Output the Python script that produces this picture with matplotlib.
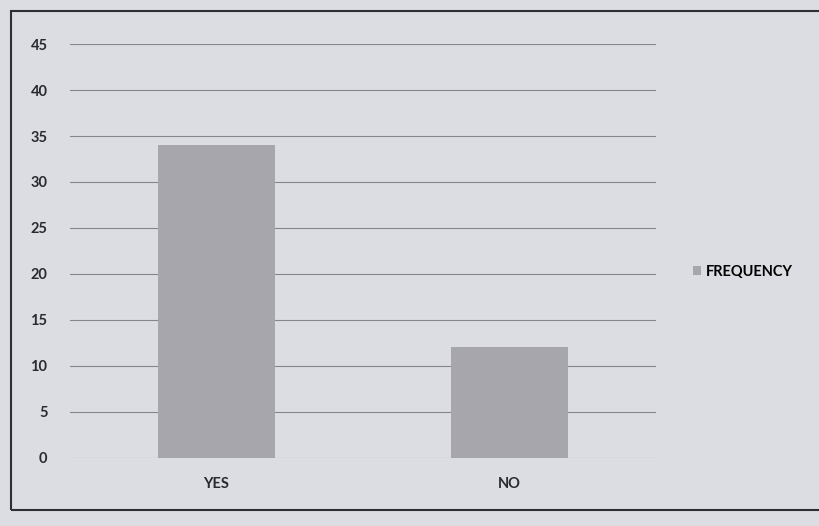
import matplotlib.pyplot as plt
from matplotlib.patches import Rectangle

categories = ['YES', 'NO']
frequency = [34, 12]
yticks = [0, 5, 10, 15, 20, 25, 30, 35, 40, 45]

plt.rcParams['font.family'] = ['Lato', 'DejaVu Sans']

bg = '#dcdde2'
fig = plt.figure(figsize=(8.2, 5.26), dpi=100, facecolor=bg)
ax = fig.add_axes([0.085, 0.13, 0.715, 0.786], facecolor=bg)

ax.bar(range(len(categories)), frequency, width=0.4, color='#a7a6ac',
       label='FREQUENCY', zorder=2)

ax.set_xlim(-0.5, 1.5)
ax.set_ylim(0, 45)
ax.set_yticks(yticks)
ax.set_xticks(range(len(categories)))
ax.set_xticklabels(categories, fontweight='bold')
ax.set_yticklabels([str(t) for t in yticks], fontweight='bold')
ax.grid(axis='y', color='#85868c', linewidth=0.8, zorder=0)
for s in ax.spines.values():
    s.set_visible(False)
ax.tick_params(length=0, labelsize=10.5, labelcolor='#2a2a2e')
ax.tick_params(axis='y', pad=16)
ax.tick_params(axis='x', pad=14)

ax.legend(loc='center left', bbox_to_anchor=(1.04, 0.45), frameon=False,
          handlelength=0.6, handleheight=0.6, handletextpad=0.3,
          prop={'size': 10.5, 'weight': 'bold'})

# outer frame of the chart
fig.patches.append(Rectangle((0.013, 0.03), 1.0, 0.95, transform=fig.transFigure,
                             fill=False, edgecolor='#2e2f33', linewidth=1.5))

fig.savefig('out.png', dpi=100, facecolor=bg)
